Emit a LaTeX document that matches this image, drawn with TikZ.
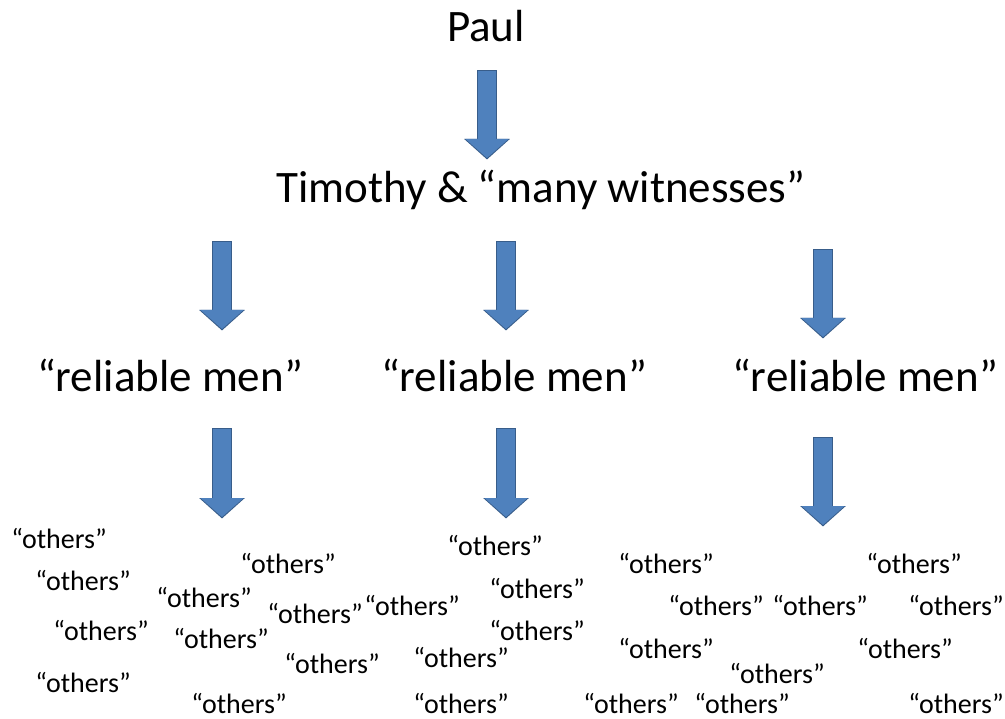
\documentclass[tikz,border=0pt]{standalone}
\usepackage{fontspec}
\setmainfont{Carlito}
\usetikzlibrary{arrows.meta}
\definecolor{arrowfill}{RGB}{79,129,189}
\definecolor{arrowline}{RGB}{56,93,138}
\begin{document}
\begin{tikzpicture}[x=1pt, y=-1pt,
    big/.style={anchor=base, inner sep=0pt, font=\fontsize{45}{50}\selectfont},
    others/.style={anchor=base, inner sep=0pt, font=\fontsize{28}{32}\selectfont},
    blockarrow/.style={arrowfill, line width=18pt, -{Triangle[width=42pt,length=19pt]},
      preaction={draw=arrowline, line width=19.5pt, shorten <=-0.75pt, shorten >=-1.5pt,
        -{Triangle[width=44.5pt,length=20.5pt]}}}]
    \useasboundingbox (0,0) rectangle (1005,719);

    % Main chain
    \node[big] (paul) at (486,42) {Paul};
    \node[big] (timothy) at (541,203) {Timothy \& “many witnesses”};
    \node[big] (men1) at (170,392) {“reliable men”};
    \node[big] (men2) at (514,392) {“reliable men”};
    \node[big] (men3) at (865,392) {“reliable men”};

    % Arrow ends (top of shaft / tip)
    \coordinate (a0s) at (487,71);  \coordinate (a0e) at (487,158);
    \coordinate (a1s) at (222,242); \coordinate (a1e) at (222,329);
    \coordinate (a2s) at (506,242); \coordinate (a2e) at (506,329);
    \coordinate (a3s) at (823,250); \coordinate (a3e) at (823,337);
    \coordinate (b1s) at (222,429); \coordinate (b1e) at (222,517);
    \coordinate (b2s) at (506,429); \coordinate (b2e) at (506,517);
    \coordinate (b3s) at (823,438); \coordinate (b3e) at (823,525);

    % Arrows
    \foreach \a in {a0,a1,a2,a3,b1,b2,b3}{
        \draw[blockarrow] (\a s) -- (\a e);
      }

    % The "others"
    \foreach \x/\y [count=\i] in {59/548, 83/590, 101/640, 83/692, 288/573,
        204/607, 221/648, 315/623, 332/673, 239/713,
        412/615, 495/555, 537/598, 537/640, 461/667, 461/713,
        666/573, 716/615, 820/615, 914/573, 956/615,
        666/658, 777/683, 905/658, 631/713, 742/713, 956/713}{
        \node[others] (o\i) at (\x,\y) {“others”};
      }
  \end{tikzpicture}
\end{document}
